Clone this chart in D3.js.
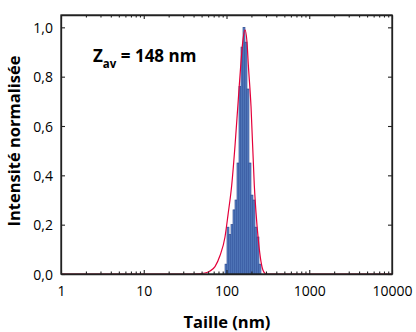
<!DOCTYPE html>
<html><head><meta charset="utf-8">
<script src="https://cdn.jsdelivr.net/npm/d3@7"></script>
<style>body{margin:0;background:#fff}svg{display:block}text{font-family:"Open Sans",sans-serif;fill:#000}</style>
</head><body><svg id="c" width="416" height="332"></svg>
<script>
// Histogram bins (size in nm, bin centers) and normalised intensity
const binSizes = [98.6,104.2,110.2,116.5,123.2,130.2,137.7,145.5,153.9,162.7,172.0,181.8,192.2,203.2,214.8,227.1,240.1,253.9];
const binValues = [0.04,0.19,0.16,0.20,0.26,0.30,0.45,0.76,0.92,1.00,0.94,0.75,0.45,0.32,0.30,0.19,0.15,0.04];
// Fitted curve (size in nm, intensity)
const fitSizes = [1,40,55,63.2,72.6,83.5,95.9,104.3,115.6,126.7,137.7,149.7,158.3,167.3,176.9,183.4,197.8,216.7,227.2,242.3,261.2,276.1,300,10000];
const fitValues = [0,0,0.004,0.012,0.03,0.075,0.15,0.24,0.36,0.52,0.69,0.86,0.95,0.99,0.94,0.85,0.68,0.36,0.25,0.14,0.05,0.015,0,0];
const xTicks = [1,10,100,1000,10000];
const yTicks = [0,0.2,0.4,0.6,0.8,1.0];
const annotation = {main:"Z", sub:"av", rest:" = 148 nm"};
const xTitle = "Taille (nm)", yTitle = "Intensité normalisée";

const svg = d3.select("#c");
const L=61, R=392, T=15, B=274;
const x = d3.scaleLog().domain([1,10000]).range([L,R]);
const y = d3.scaleLinear().domain([0,1.05]).range([B,T]);

// bars
const lg = binSizes.map(Math.log10);
const edges = [];
for(let i=0;i<lg.length;i++){
  const lo = i===0 ? lg[0]-(lg[1]-lg[0])/2 : (lg[i-1]+lg[i])/2;
  const hi = i===lg.length-1 ? lg[i]+(lg[i]-lg[i-1])/2 : (lg[i]+lg[i+1])/2;
  edges.push([Math.pow(10,lo),Math.pow(10,hi)]);
}
svg.append("g").selectAll("rect").data(binValues).join("rect")
  .attr("x",(d,i)=>x(edges[i][0]))
  .attr("width",(d,i)=>x(edges[i][1])-x(edges[i][0]))
  .attr("y",d=>y(d)).attr("height",d=>B-y(d))
  .attr("fill","#5f88c8").attr("stroke","#23408a").attr("stroke-width",0.6);

// curve
const pts = fitSizes.map((s,i)=>[s,fitValues[i]]);
svg.append("path").datum(pts)
  .attr("d",d3.line().x(d=>x(d[0])).y(d=>y(d[1])).curve(d3.curveMonotoneX))
  .attr("fill","none").attr("stroke","#e4003a").attr("stroke-width",1.2);

// axes with inward ticks
const minor = [];
for(let p=0;p<4;p++) for(let k=2;k<10;k++) minor.push(k*Math.pow(10,p));
function fmt(v){return d3.format(".1f")(v).replace(".",",");}
const gb = svg.append("g").attr("transform",`translate(0,${B})`);
gb.call(d3.axisBottom(x).tickValues(xTicks).tickFormat(d3.format("d")).tickSizeInner(-4).tickSizeOuter(0).tickPadding(12));
gb.append("g").call(d3.axisBottom(x).tickValues(minor).tickFormat("").tickSizeInner(-2.5).tickSizeOuter(0)).select(".domain").remove();
const gt = svg.append("g").attr("transform",`translate(0,${T})`);
gt.call(d3.axisTop(x).tickValues(xTicks).tickFormat("").tickSizeInner(-4).tickSizeOuter(0));
gt.append("g").call(d3.axisTop(x).tickValues(minor).tickFormat("").tickSizeInner(-2.5).tickSizeOuter(0)).select(".domain").remove();
const gl = svg.append("g").attr("transform",`translate(${L},0)`);
gl.call(d3.axisLeft(y).tickValues(yTicks).tickFormat(fmt).tickSizeInner(-4).tickSizeOuter(0).tickPadding(8));
const gr = svg.append("g").attr("transform",`translate(${R},0)`);
gr.call(d3.axisRight(y).tickValues(yTicks).tickFormat("").tickSizeInner(-4).tickSizeOuter(0));
svg.selectAll(".domain").attr("stroke","#222").attr("stroke-width",1.3);
svg.selectAll(".tick line").attr("stroke","#222").attr("stroke-width",1.1);
svg.selectAll(".tick text").style("font-family","'Open Sans',sans-serif").style("font-size","14px").attr("fill","#000");
gl.selectAll(".tick text").attr("dy","0.36em");
// full frame
svg.append("rect").attr("x",L).attr("y",T).attr("width",R-L).attr("height",B-T)
  .attr("fill","none").attr("stroke","#222").attr("stroke-width",1.3);

// titles
svg.append("text").attr("x",227).attr("y",328).attr("text-anchor","middle")
  .style("font-size","16.5px").style("font-weight","bold").text(xTitle);
svg.append("text").attr("transform",`translate(20,141) rotate(-90)`).attr("text-anchor","middle")
  .style("font-size","16.5px").style("font-weight","bold").text(yTitle);

// annotation
const an = svg.append("text").attr("x",93).attr("y",62).style("font-size","17px").style("font-weight","bold");
an.append("tspan").text(annotation.main);
an.append("tspan").attr("dy",6).style("font-size","11.5px").text(annotation.sub);
an.append("tspan").attr("dy",-6).text(annotation.rest);
</script></body></html>
